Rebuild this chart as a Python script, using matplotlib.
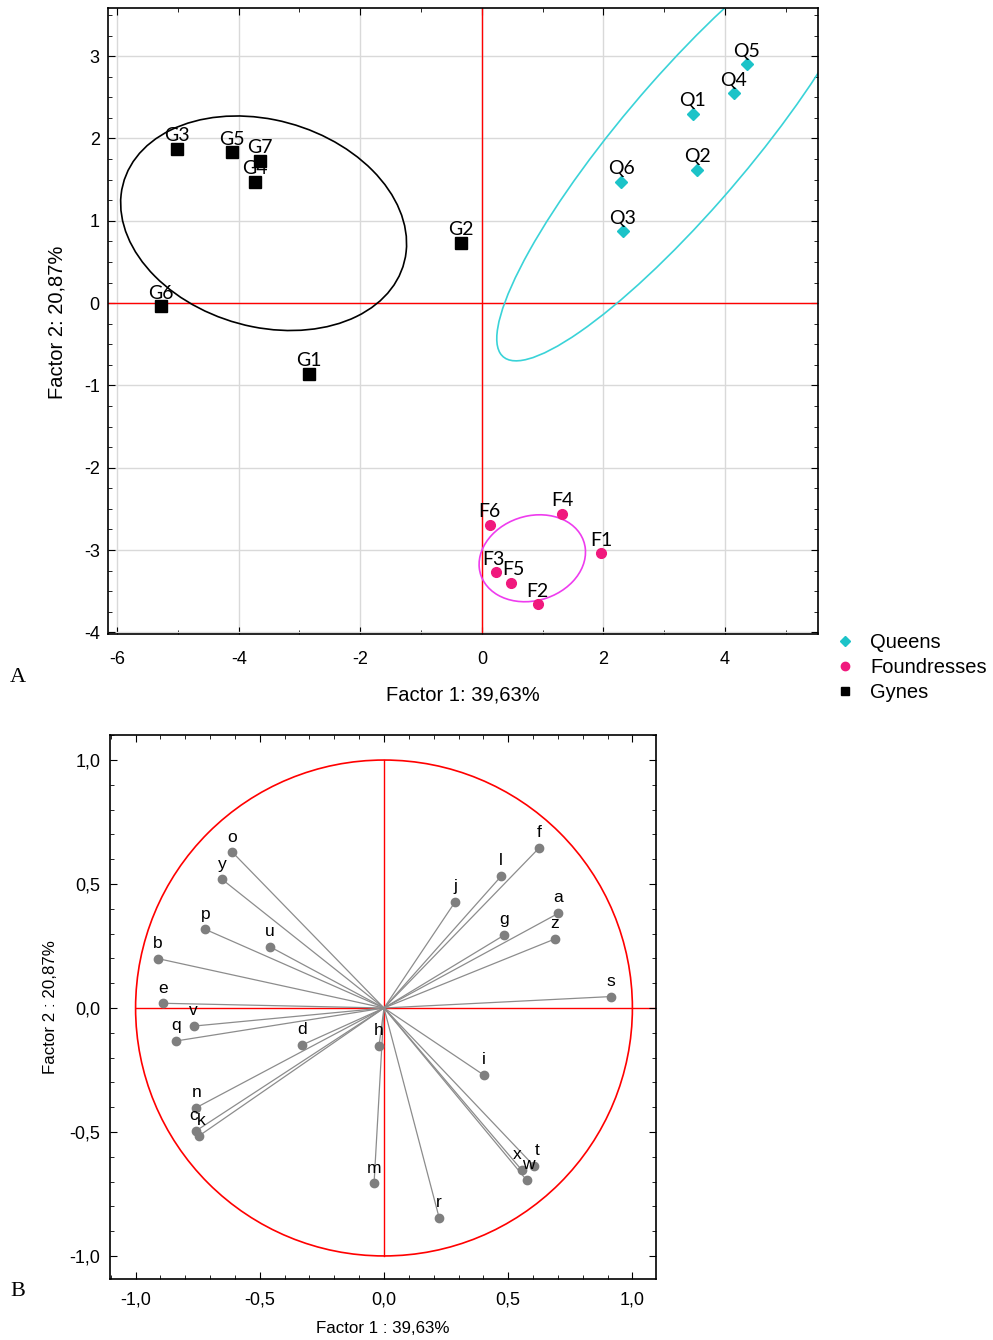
import matplotlib.pyplot as plt
import numpy as np
from matplotlib.patches import Ellipse, Circle
from matplotlib.lines import Line2D
from matplotlib.ticker import MultipleLocator, FuncFormatter

plt.rcParams['font.family'] = ['Liberation Sans', 'DejaVu Sans']
plt.rcParams['axes.unicode_minus'] = False

# ---- panel A: factor scores ----
queen_labels = ["Q1", "Q2", "Q3", "Q4", "Q5", "Q6"]
queen_f1 = [3.47, 3.54, 2.32, 4.14, 4.36, 2.29]
queen_f2 = [2.30, 1.62, 0.87, 2.55, 2.90, 1.47]

found_labels = ["F1", "F2", "F3", "F4", "F5", "F6"]
found_f1 = [1.96, 0.92, 0.23, 1.32, 0.48, 0.13]
found_f2 = [-3.04, -3.66, -3.27, -2.56, -3.40, -2.69]

gyne_labels = ["G1", "G2", "G3", "G4", "G5", "G6", "G7"]
gyne_f1 = [-2.85, -0.35, -5.02, -3.73, -4.11, -5.28, -3.65]
gyne_f2 = [-0.86, 0.73, 1.87, 1.47, 1.83, -0.04, 1.73]

# group ellipses: centre x, centre y, width, height, angle (deg)
ell_queens = (3.35, 1.95, 7.96, 1.82, 40)
ell_found = (0.83, -3.10, 1.76, 1.04, 7.5)
ell_gynes = (-3.59, 0.97, 4.74, 2.54, -8.4)

# ---- panel B: variable loadings ----
var_labels = list("abcdefghijklmnopqrstuvwxyz")
var_f1 = [0.702, -0.909, -0.756, -0.329, -0.890, 0.625, 0.484, -0.020, 0.401,
          0.287, -0.745, 0.472, -0.040, -0.756, -0.610, -0.719, -0.837, 0.222,
          0.912, 0.604, -0.459, -0.766, 0.574, 0.554, -0.652, 0.687]
var_f2 = [0.382, 0.199, -0.495, -0.149, 0.019, 0.646, 0.294, -0.153, -0.270,
          0.429, -0.516, 0.532, -0.707, -0.402, 0.628, 0.317, -0.133, -0.846,
          0.046, -0.637, 0.247, -0.073, -0.694, -0.653, 0.519, 0.278]
# small sideways nudges for crowded labels (points)
label_dx = {"c": -2, "k": 2, "x": -3, "w": 1, "t": 2, "F3": -2, "F5": 2}

c_queen = '#1cc3c8'
c_queen_ell = '#3ad3d8'
c_found = '#f0197d'
c_found_ell = '#ee3cee'

fig = plt.figure(figsize=(9.93, 13.40), dpi=100)

# ================= panel A =================
ax = fig.add_axes([108 / 993, 1 - 634 / 1340, 710 / 993, 626 / 1340])
ax.set_xlim(-6.15, 5.53)
ax.set_ylim(-4.02, 3.585)
ax.xaxis.set_major_locator(MultipleLocator(2))
ax.xaxis.set_minor_locator(MultipleLocator(1))
ax.yaxis.set_major_locator(MultipleLocator(1))
ax.yaxis.set_minor_locator(MultipleLocator(0.25))
ax.grid(True, which='major', color='#d9d9d9', lw=1, zorder=0)
ax.set_axisbelow(True)
ax.tick_params(which='both', direction='in', top=True, right=True, labelsize=13)
ax.tick_params(which='major', length=5)
ax.tick_params(which='minor', length=3)
ax.tick_params(axis='x', pad=12)
ax.tick_params(axis='y', pad=6)
for s in ax.spines.values():
    s.set_linewidth(1.2)

ax.axhline(0, color='red', lw=1, zorder=1)
ax.axvline(0, color='red', lw=1, zorder=1)

for e, col in [(ell_queens, c_queen_ell), (ell_found, c_found_ell), (ell_gynes, 'black')]:
    ax.add_patch(Ellipse((e[0], e[1]), e[2], e[3], angle=e[4], fill=False,
                         edgecolor=col, lw=1.2, zorder=2))

ax.plot(queen_f1, queen_f2, 'D', color=c_queen, ms=6, ls='none', zorder=3)
ax.plot(found_f1, found_f2, 'o', color=c_found, ms=7, ls='none', zorder=3)
ax.plot(gyne_f1, gyne_f2, 's', color='black', ms=8, ls='none', zorder=3)

for labs, xs, ys in [(queen_labels, queen_f1, queen_f2),
                     (found_labels, found_f1, found_f2),
                     (gyne_labels, gyne_f1, gyne_f2)]:
    for lab, x, y in zip(labs, xs, ys):
        ax.annotate(lab, (x, y), xytext=(label_dx.get(lab, 0), 9.5),
                    textcoords='offset points', ha='center', va='center',
                    fontsize=14, family='Lato', color='black', zorder=4)

ax.set_xlabel("Factor 1: 39,63%", fontsize=14.5)
ax.set_ylabel("Factor 2: 20,87%", fontsize=14.5)
ax.xaxis.set_label_coords(0.5, -0.082)
ax.yaxis.set_label_coords(-0.059, 0.498)

handles = [Line2D([], [], marker='D', color=c_queen, ls='none', ms=5),
           Line2D([], [], marker='o', color=c_found, ls='none', ms=6),
           Line2D([], [], marker='s', color='black', ls='none', ms=6)]
fig.legend(handles, ["Queens", "Foundresses", "Gynes"], loc='upper left',
           bbox_to_anchor=(835 / 993, 1 - 633 / 1340), frameon=False,
           fontsize=14.5, handlelength=1.0, handletextpad=0.75,
           labelspacing=0.3, borderpad=0, borderaxespad=0)

fig.text(10 / 993, 1 - 678 / 1340, "A", fontsize=16, family='Liberation Serif',
         va='center', ha='left')

# ================= panel B =================
bx = fig.add_axes([110 / 993, 1 - 1279 / 1340, 546 / 993, 544 / 1340])
bx.set_xlim(-1.103, 1.095)
bx.set_ylim(-1.093, 1.101)
bx.xaxis.set_major_locator(MultipleLocator(0.5))
bx.xaxis.set_minor_locator(MultipleLocator(0.1))
bx.yaxis.set_major_locator(MultipleLocator(0.5))
bx.yaxis.set_minor_locator(MultipleLocator(0.1))
comma = FuncFormatter(lambda v, p: f"{v:.1f}".replace('.', ','))
bx.xaxis.set_major_formatter(comma)
bx.yaxis.set_major_formatter(comma)
bx.tick_params(which='both', direction='in', top=True, right=True, labelsize=13)
bx.tick_params(which='major', length=5)
bx.tick_params(which='minor', length=3)
bx.tick_params(axis='x', pad=9)
bx.tick_params(axis='y', pad=7)
for s in bx.spines.values():
    s.set_linewidth(1.2)

bx.add_patch(Circle((0, 0), 1, fill=False, edgecolor='red', lw=1.2, zorder=1))
bx.plot([-1, 1.095], [0, 0], color='red', lw=1, zorder=1)
bx.plot([0, 0], [-1, 1], color='red', lw=1, zorder=1)

for x, y in zip(var_f1, var_f2):
    bx.plot([0, x], [0, y], color='#8c8c8c', lw=0.9, zorder=2)
bx.plot(var_f1, var_f2, 'o', color='#7f7f7f', ms=6, ls='none', zorder=3)
for lab, x, y in zip(var_labels, var_f1, var_f2):
    bx.annotate(lab, (x, y), xytext=(label_dx.get(lab, 0), 11),
                textcoords='offset points', ha='center', va='center',
                fontsize=12.5, zorder=4)

bx.set_xlabel("Factor 1 : 39,63%", fontsize=12.2)
bx.set_ylabel("Factor 2 : 20,87%", fontsize=12.2)
bx.xaxis.set_label_coords(0.5, -0.077)
bx.yaxis.set_label_coords(-0.095, 0.5)

fig.text(10 / 993, 1 - 1292 / 1340, "B", fontsize=16, family='Liberation Serif',
         va='center', ha='left')

fig.savefig("out.png", dpi=100)
